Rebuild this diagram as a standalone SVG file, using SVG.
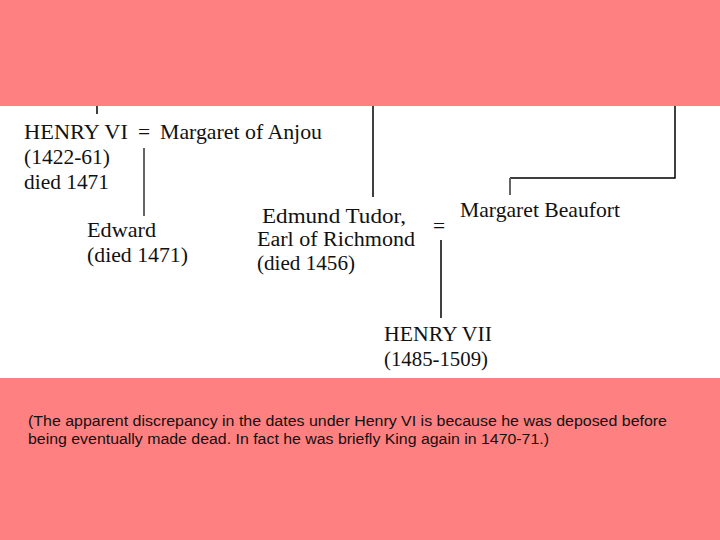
<svg xmlns="http://www.w3.org/2000/svg" width="720" height="540" viewBox="0 0 720 540">
<style>
.t{font-family:"Liberation Serif","Times New Roman",serif;font-size:21.5px;fill:#111}
.s{font-family:"Liberation Serif","Times New Roman",serif;font-size:21.5px;fill:#111}
.e{font-family:"Liberation Serif","Times New Roman",serif;font-size:20px;fill:#111}
.c{font-family:"Liberation Sans",Arial,sans-serif;font-size:15.5px;fill:#111}
.ln{stroke:#000;stroke-width:1.5;fill:none}
.gl{stroke:#666;stroke-width:2;fill:none}
</style>
<rect x="0" y="0" width="720" height="540" fill="#FF8080"/>
<rect x="0" y="106" width="720" height="272" fill="#FFFFFF"/>
<g id="connectors">
<line class="ln" x1="97" y1="106" x2="97" y2="114"/>
<line class="gl" x1="144" y1="148" x2="144" y2="216"/>
<line class="ln" x1="373" y1="106" x2="373" y2="197"/>
<polyline class="ln" points="675,106 675,178 510,178"/>
<line class="gl" x1="510" y1="178" x2="510" y2="195"/>
<line class="ln" x1="441" y1="240" x2="441" y2="318"/>
</g>
<g id="henry6">
<text class="t" x="24" y="139" textLength="104" lengthAdjust="spacingAndGlyphs">HENRY VI</text>
<text class="t" x="24" y="164" textLength="86" lengthAdjust="spacingAndGlyphs">(1422-61)</text>
<text class="t" x="24" y="189" textLength="85" lengthAdjust="spacingAndGlyphs">died 1471</text>
</g>
<g id="margaret-anjou">
<text class="t" x="138" y="139">=</text>
<text class="t" x="160" y="139" textLength="162" lengthAdjust="spacingAndGlyphs">Margaret of Anjou</text>
</g>
<g id="edward">
<text class="s" x="87" y="237" textLength="69" lengthAdjust="spacingAndGlyphs">Edward</text>
<text class="s" x="87" y="262" textLength="101" lengthAdjust="spacingAndGlyphs">(died 1471)</text>
</g>
<g id="edmund">
<text class="e" x="262" y="223" textLength="144" lengthAdjust="spacingAndGlyphs">Edmund Tudor,</text>
<text class="e" x="257" y="246" textLength="158" lengthAdjust="spacingAndGlyphs">Earl of Richmond</text>
<text class="e" x="257" y="270" textLength="98" lengthAdjust="spacingAndGlyphs">(died 1456)</text>
</g>
<g id="marriage">
<text class="t" x="433" y="233">=</text>
</g>
<g id="margaret-beaufort">
<text class="s" x="460" y="217" textLength="160" lengthAdjust="spacingAndGlyphs">Margaret Beaufort</text>
</g>
<g id="henry7">
<text class="s" x="384" y="341" textLength="108" lengthAdjust="spacingAndGlyphs">HENRY VII</text>
<text class="s" x="384" y="366" textLength="104" lengthAdjust="spacingAndGlyphs">(1485-1509)</text>
</g>
<g id="caption">
<text class="c" x="28" y="426" textLength="639" lengthAdjust="spacingAndGlyphs">(The apparent discrepancy in the dates under Henry VI is because he was deposed before</text>
<text class="c" x="28" y="444" textLength="521" lengthAdjust="spacingAndGlyphs">being eventually made dead. In fact he was briefly King again in 1470-71.)</text>
</g>
</svg>
